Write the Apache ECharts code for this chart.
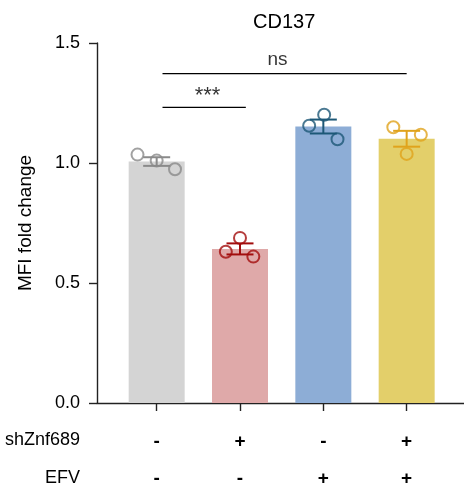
<!DOCTYPE html>
<html>
<head>
<meta charset="utf-8">
<script src="https://cdn.jsdelivr.net/npm/echarts@6/dist/echarts.min.js"></script>
<style>html,body{margin:0;padding:0;background:#fff;}#c{width:464px;height:490px;}</style>
</head>
<body>
<div id="c"></div>
<script>
// ---- data ----
var groups = [0, 1, 2, 3];
var barMeans = [1.006, 0.642, 1.152, 1.101];
var barSEM = [0.018, 0.023, 0.029, 0.033];
var pointsX = [
  [-0.23, 0.0, 0.22],
  [-0.17, 0.0, 0.16],
  [-0.17, 0.01, 0.17],
  [-0.16, 0.17, 0.0]
];
var pointsY = [
  [1.035, 1.010, 0.974],
  [0.630, 0.688, 0.610],
  [1.155, 1.201, 1.099],
  [1.149, 1.118, 1.038]
];
var shZnf689Row = ['-', '+', '-', '+'];
var efvRow = ['-', '-', '+', '+'];
var yTicks = [0, 0.5, 1.0, 1.5];
var sigBrackets = [
  { label: '***', from: 0.07, to: 1.07, y: 1.232, labelX: 0.61 },
  { label: 'ns', from: 0.07, to: 3.0, y: 1.372, labelX: 1.45 }
];
var barColors = ['#d4d4d4', '#dfa9a9', '#8dadd6', '#e3cf6a'];
var pointColors = ['#8a8a8a', '#a20d0d', '#1d5877', '#e0a31c'];

var FONT = 'Liberation Sans, Arial, sans-serif';
var chart = echarts.init(document.getElementById('c'), null, {renderer: 'canvas'});

var series = [];
series.push({
  type: 'bar',
  barWidth: 56,
  data: groups.map(function (g, i) {
    return { value: [g, barMeans[i]], itemStyle: { color: barColors[i] } };
  }),
  z: 1
});
series.push({
  type: 'custom',
  z: 3,
  data: groups.map(function (g, i) { return [g, barMeans[i] - barSEM[i], barMeans[i] + barSEM[i], i]; }),
  renderItem: function (params, api) {
    var x = api.value(0);
    var lo = api.coord([x, api.value(1)]);
    var hi = api.coord([x, api.value(2)]);
    var col = pointColors[api.value(3)];
    var hw = 13.5;
    var st = { stroke: col, lineWidth: 2 };
    return {
      type: 'group',
      children: [
        { type: 'line', shape: { x1: lo[0], y1: lo[1], x2: hi[0], y2: hi[1] }, style: st },
        { type: 'line', shape: { x1: lo[0] - hw, y1: lo[1], x2: lo[0] + hw, y2: lo[1] }, style: st },
        { type: 'line', shape: { x1: hi[0] - hw, y1: hi[1], x2: hi[0] + hw, y2: hi[1] }, style: st }
      ]
    };
  }
});
groups.forEach(function (g, i) {
  series.push({
    type: 'scatter',
    z: 4,
    symbol: 'circle',
    symbolSize: 12,
    itemStyle: { color: 'rgba(0,0,0,0)', borderColor: pointColors[i], borderWidth: 2 },
    data: pointsX[i].map(function (dx, k) { return [g + dx, pointsY[i][k]]; })
  });
});
sigBrackets.forEach(function (b) {
  series.push({
    type: 'line',
    z: 5,
    symbol: 'none',
    lineStyle: { color: '#000', width: 1.3 },
    data: [[b.from, b.y], [b.to, b.y]]
  });
  series.push({
    type: 'scatter',
    z: 5,
    symbolSize: 0,
    data: [[b.labelX, b.y]],
    label: {
      show: true, position: 'top', distance: b.label === 'ns' ? 4 : 0,
      formatter: b.label, color: '#000', fontSize: b.label === 'ns' ? 19 : 22, fontFamily: FONT
    }
  });
});

chart.setOption({
  animation: false,
  backgroundColor: '#fff',
  grid: { left: 97, top: 43, right: 0, height: 360, containLabel: false },
  xAxis: {
    type: 'value',
    min: -0.716, max: 3.688,
    splitLine: { show: false },
    axisLine: { show: true, onZero: false, lineStyle: { color: '#222', width: 1.4 } },
    axisTick: { show: true, customValues: groups, length: 8, lineStyle: { color: '#222', width: 1.4 } },
    axisLabel: {
      show: true, customValues: groups, margin: 20,
      formatter: function (v) {
        var i = Math.round(v);
        return '{a|' + shZnf689Row[i] + '}\n{a|' + efvRow[i] + '}';
      },
      rich: { a: { fontSize: 19, lineHeight: 37, color: '#000', fontFamily: FONT, fontWeight: 'bold' } }
    }
  },
  yAxis: {
    type: 'value',
    min: 0, max: 1.5, interval: 0.5,
    name: 'MFI fold change',
    nameLocation: 'middle',
    nameGap: 62,
    nameTextStyle: { fontSize: 19, color: '#000', fontFamily: FONT },
    splitLine: { show: false },
    axisLine: { show: true, onZero: false, lineStyle: { color: '#222', width: 1.4 } },
    axisTick: { show: true, length: 8, lineStyle: { color: '#222', width: 1.4 } },
    axisLabel: {
      margin: 17, fontSize: 18, color: '#000', fontFamily: FONT,
      customValues: yTicks,
      formatter: function (v) { return v.toFixed(1); }
    }
  },
  graphic: [
    { type: 'text', left: 286 - 33, top: 12, style: { text: 'CD137', fill: '#000', font: '20px ' + FONT } },
    { type: 'text', right: 464 - 80, top: 431, style: { text: 'shZnf689', fill: '#000', font: '18px ' + FONT, textAlign: 'right' } },
    { type: 'text', right: 464 - 80, top: 469, style: { text: 'EFV', fill: '#000', font: '18px ' + FONT, textAlign: 'right' } }
  ],
  series: series
});
</script>
</body>
</html>
